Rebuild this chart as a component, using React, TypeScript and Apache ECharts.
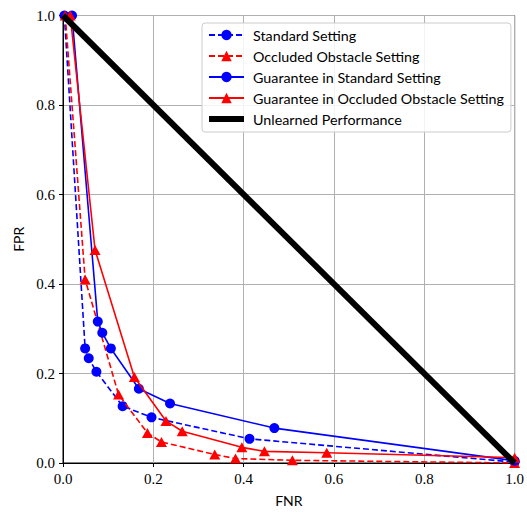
import { useEffect, useRef } from "react";
import * as echarts from "echarts";

// Standard Setting (blue dashed, circles)
const stdFNR = [0.003, 0.049, 0.057, 0.074, 0.132, 0.196, 0.413, 1.0];
const stdFPR = [1.0, 0.256, 0.234, 0.204, 0.127, 0.102, 0.054, 0.002];
// Occluded Obstacle Setting (red dashed, triangles)
const occFNR = [0.005, 0.049, 0.123, 0.187, 0.218, 0.336, 0.382, 0.508, 1.0];
const occFPR = [1.0, 0.41, 0.153, 0.067, 0.047, 0.019, 0.01, 0.006, 0.0];
// Guarantee in Standard Setting (blue solid, circles)
const gStdFNR = [0.02, 0.077, 0.087, 0.106, 0.168, 0.237, 0.468, 1.0];
const gStdFPR = [1.0, 0.316, 0.291, 0.256, 0.166, 0.133, 0.078, 0.005];
// Guarantee in Occluded Obstacle Setting (red solid, triangles)
const gOccFNR = [0.016, 0.071, 0.158, 0.228, 0.264, 0.396, 0.446, 0.584, 1.0];
const gOccFPR = [1.0, 0.476, 0.192, 0.094, 0.071, 0.035, 0.026, 0.023, 0.012];
// Unlearned Performance (diagonal)
const unlFNR = [0, 1];
const unlFPR = [1, 0];

const seriesNames = [
  "Standard Setting",
  "Occluded Obstacle Setting",
  "Guarantee in Standard Setting",
  "Guarantee in Occluded Obstacle Setting",
  "Unlearned Performance",
];
const axisTicks = [0, 0.2, 0.4, 0.6, 0.8, 1.0];

const zip = (a: number[], b: number[]) => a.map((v, i) => [v, b[i]]);

export default function App() {
  const ref = useRef<HTMLDivElement>(null);
  useEffect(() => {
    if (!ref.current) return;
    const chart = echarts.init(ref.current, null, { renderer: "svg" });
    const blue = "#0000ff";
    const red = "#ff0000";
    const serif = "Liberation Serif";
    const sans = "Lato";
    const axisCommon = {
      type: "value" as const,
      min: 0,
      max: 1,
      interval: 0.2,
      nameLocation: "middle" as const,
      nameTextStyle: { fontFamily: sans, fontSize: 14, color: "#000" },
      axisLine: { show: true, lineStyle: { color: "#000", width: 1 } },
      axisTick: { show: true, inside: false, length: 4, lineStyle: { color: "#000", width: 1 } },
      axisLabel: {
        fontFamily: serif,
        fontSize: 15,
        color: "#000",
        formatter: (v: number) => (axisTicks.some((t) => Math.abs(t - v) < 1e-9) ? v.toFixed(1) : ""),
      },
      splitLine: { show: true, lineStyle: { color: "#b0b0b0", width: 1 } },
    };
    chart.setOption({
      animation: false,
      grid: {
        left: 63,
        right: 11,
        top: 15.5,
        bottom: 43,
        show: true,
        borderColor: "#000",
        borderWidth: 1,
        backgroundColor: "transparent",
      },
      xAxis: {
        ...axisCommon,
        name: "FNR",
        nameGap: 30,
        axisLabel: { ...axisCommon.axisLabel, margin: 8 },
      },
      yAxis: {
        ...axisCommon,
        name: "FPR",
        nameGap: 38,
        nameRotate: 90,
        axisLabel: { ...axisCommon.axisLabel, margin: 8 },
      },
      legend: {
        orient: "vertical",
        left: 202,
        top: 23,
        selectedMode: false,
        itemWidth: 35,
        itemHeight: 13,
        itemGap: 7,
        padding: [5, 7, 6, 4],
        backgroundColor: "rgba(255,255,255,0.85)",
        borderColor: "#cccccc",
        borderWidth: 1,
        borderRadius: 3,
        textStyle: {
          fontFamily: sans,
          fontSize: 14.3,
          lineHeight: 13,
          color: "#000",
          padding: [0, 0, 0, 4],
        },
        data: [
          { name: seriesNames[0] },
          { name: seriesNames[1] },
          { name: seriesNames[2] },
          { name: seriesNames[3] },
          { name: seriesNames[4], itemStyle: { opacity: 0 }, lineStyle: { width: 6 } },
        ],
      },
      series: [
        {
          type: "line",
          name: seriesNames[0],
          data: zip(stdFNR, stdFPR),
          symbol: "circle",
          symbolSize: 10,
          lineStyle: { color: blue, width: 1.6, type: [6, 3] },
          itemStyle: { color: blue },
          z: 2,
        },
        {
          type: "line",
          name: seriesNames[1],
          data: zip(occFNR, occFPR),
          symbol: "triangle",
          symbolSize: [11, 10],
          lineStyle: { color: red, width: 1.6, type: [6, 3] },
          itemStyle: { color: red },
          z: 3,
        },
        {
          type: "line",
          name: seriesNames[2],
          data: zip(gStdFNR, gStdFPR),
          symbol: "circle",
          symbolSize: 10,
          lineStyle: { color: blue, width: 1.6 },
          itemStyle: { color: blue },
          z: 4,
        },
        {
          type: "line",
          name: seriesNames[3],
          data: zip(gOccFNR, gOccFPR),
          symbol: "triangle",
          symbolSize: [11, 10],
          lineStyle: { color: red, width: 1.6 },
          itemStyle: { color: red },
          z: 5,
        },
        {
          type: "line",
          name: seriesNames[4],
          data: zip(unlFNR, unlFPR),
          symbol: "none",
          lineStyle: { color: "#000", width: 6 },
          itemStyle: { color: "#000" },
          z: 6,
        },
      ],
    });
    return () => chart.dispose();
  }, []);
  return (
    <div
      ref={ref}
      style={{ position: "fixed", left: 0, top: 0, width: 527, height: 512, background: "#fff" }}
    />
  );
}
